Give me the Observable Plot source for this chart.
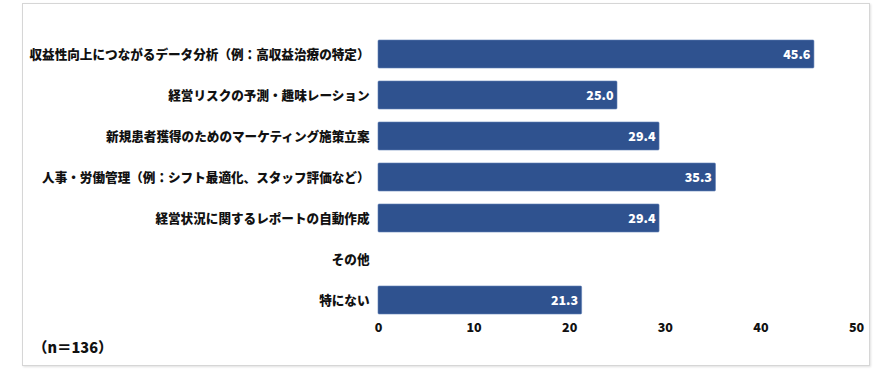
<!DOCTYPE html>
<html>
<head>
<meta charset="utf-8">
<script src="https://cdn.jsdelivr.net/npm/d3@7"></script>
<script src="https://cdn.jsdelivr.net/npm/@observablehq/plot@0.6"></script>
<style>
  html, body { margin: 0; padding: 0; background: #fff; }
  body { width: 889px; height: 369px; position: relative; overflow: hidden;
         font-family: "Noto Sans CJK JP", "Noto Sans", sans-serif; }
  #frame { position: absolute; left: 22px; top: 3px; width: 846px; height: 361px;
           border: 1px solid #d6d6d6; box-shadow: 1px 1px 2px rgba(0,0,0,0.12); }
  #chart { position: absolute; left: 0; top: 0; }
  #note { position: absolute; left: 33px; top: 336px; font-size: 14.5px; font-weight: 900; color: #111; }
</style>
</head>
<body>
<div id="frame"></div>
<div id="chart"></div>
<div id="note">（n＝136）</div>
<script>
const categories = [
  "収益性向上につながるデータ分析（例：高収益治療の特定）",
  "経営リスクの予測・趣味レーション",
  "新規患者獲得のためのマーケティング施策立案",
  "人事・労働管理（例：シフト最適化、スタッフ評価など）",
  "経営状況に関するレポートの自動作成",
  "その他",
  "特にない"
];
const values = [45.6, 25.0, 29.4, 35.3, 29.4, null, 21.3];
const xTicks = [0, 10, 20, 30, 40, 50];

const data = categories.map((c, i) => ({category: c, value: values[i]}));
const barData = data.filter(d => d.value != null);

const chart = Plot.plot({
  width: 889,
  height: 369,
  marginLeft: 378,
  marginRight: 33,
  marginTop: 33,
  marginBottom: 49,
  style: { fontFamily: "'Noto Sans CJK JP', 'Noto Sans', sans-serif", background: "transparent", overflow: "visible" },
  x: { domain: [0, 50], ticks: xTicks, grid: false },
  y: { domain: categories, paddingInner: 0.32, paddingOuter: 0.1 },
  marks: [
    Plot.ruleX(xTicks.filter(t => t > 0), { stroke: "#efefef", strokeWidth: 1, y1: null }),
    Plot.barX(barData, { y: "category", x: "value", fill: "#2f528f", stroke: "#5f7fb5", strokeWidth: 0.6, rx: 1 }),
    Plot.text(barData, { y: "category", x: "value", text: d => d.value.toFixed(1), textAnchor: "end", dx: -4, fill: "white", fontWeight: 900, fontSize: 12.5, letterSpacing: "-0.3px" }),
    Plot.axisY({ tickSize: 0, tickPadding: 9, fontSize: 12.6, fontWeight: 900, label: null, fill: "#111" }),
    Plot.axisX({ ticks: xTicks, tickSize: 0, tickPadding: 3, fontSize: 12.5, fontWeight: 900, label: null, fill: "#111" })
  ]
});
document.getElementById("chart").appendChild(chart);
</script>
</body>
</html>
